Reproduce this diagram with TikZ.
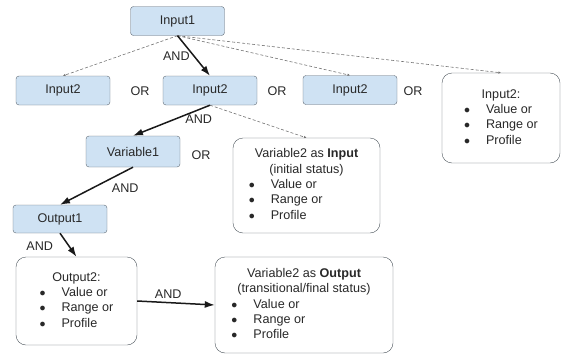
\documentclass[tikz,border=0pt]{standalone}
\usepackage{fontspec}
\setmainfont{Liberation Sans}
\usepackage{tikz}
\usetikzlibrary{arrows}
\usetikzlibrary{arrows.meta}
\usetikzlibrary{positioning}

\definecolor{boxblue}{RGB}{207,226,243}
\definecolor{boxedge}{RGB}{95,105,115}
\definecolor{inktext}{RGB}{40,40,40}

\newcommand{\optlist}{$\bullet$ & Value or\\ $\bullet$ & Range or\\ $\bullet$ & Profile}

\tikzset{
  every node/.style={font=\fontsize{12.6}{15.3}\selectfont, text=inktext},
  inbox/.style={draw=boxedge, fill=boxblue, rounded corners=3pt,
    minimum width=94pt, minimum height=29pt, inner sep=0pt},
  listbox/.style={draw=boxedge!80!black, rounded corners=10pt, inner sep=0pt},
  andarrow/.style={-{Latex[length=10pt,width=7pt]}, line width=1.5pt, color=black!90},
  orarrow/.style={-{Latex[length=2.5pt,width=2.5pt]}, dash pattern=on 3pt off 2pt,
    line width=0.6pt, color=black!55}
}

\begin{document}
\begin{tikzpicture}[x=1pt, y=-1pt]
  \useasboundingbox (0,0) rectangle (562,356);

  % first row
  \node[inbox] (in1) at (177.5,21) {Input1};
  \node[inbox] (in2a) at (63,90.5) {Input2};
  \node[inbox] (in2b) at (210,90.5) {Input2};
  \node[inbox] (in2c) at (350,90) {Input2};
  \node (or1) at (140,91) {OR};
  \node (or2) at (277,91) {OR};
  \node (or3) at (413,91) {OR};
  \node[listbox, minimum width=118pt, minimum height=90pt] (in2box) at (501,118)
    {\begin{tabular}{@{}l@{\hspace{16pt}}l@{}}
      \multicolumn{2}{c}{Input2:}\\ \optlist
    \end{tabular}};

  % second row
  \node[inbox, minimum height=31pt] (var1) at (133,151.5) {Variable1};
  \node (or4) at (201,155) {OR};
  \node[listbox, minimum width=147pt, minimum height=95pt] (var2in) at (306.5,185.5)
    {\begin{tabular}{@{}l@{\hspace{16pt}}l@{}}
      \multicolumn{2}{c}{Variable2 as \textbf{Input}}\\
      \multicolumn{2}{c}{(initial status)}\\ \optlist
    \end{tabular}};

  % outputs
  \node[inbox, minimum height=28pt] (out1) at (60,219) {Output1};
  \node[listbox, minimum width=121pt, minimum height=88pt] (out2) at (76.5,301)
    {\begin{tabular}{@{}l@{\hspace{16pt}}l@{}}
      \multicolumn{2}{c}{Output2:}\\ \optlist
    \end{tabular}};
  \node[listbox, minimum width=178pt, minimum height=96pt] (var2out) at (304,305)
    {\begin{tabular}{@{}l@{\hspace{16pt}}l@{}}
      \multicolumn{2}{c}{Variable2 as \textbf{Output}}\\
      \multicolumn{2}{c}{(transitional/final status)}\\ \optlist
    \end{tabular}};

  % optional branches
  \draw[orarrow] (in1.south) -- (in2a.north);
  \draw[orarrow] (in1.south) -- (in2c.north);
  \draw[orarrow] (in1.south) -- (in2box.north);
  \draw[orarrow] (in2b.south) -- (var2in.north);

  % chosen path
  \draw[andarrow] (in1.south) -- (in2b.north) node[midway, left] {AND};
  \draw[andarrow] (in2b.south) -- (var1.north) node[pos=0.45, right=6pt] {AND};
  \draw[andarrow] (var1.south) -- (out1.north) node[pos=0.55, right=15pt] {AND};
  \draw[andarrow] (out1.south) -- (out2.north) node[pos=0.55, left=12pt] {AND};
  \draw[andarrow] (out2.east) -- (var2out.west) node[pos=0.4, above] {AND};
\end{tikzpicture}
\end{document}
